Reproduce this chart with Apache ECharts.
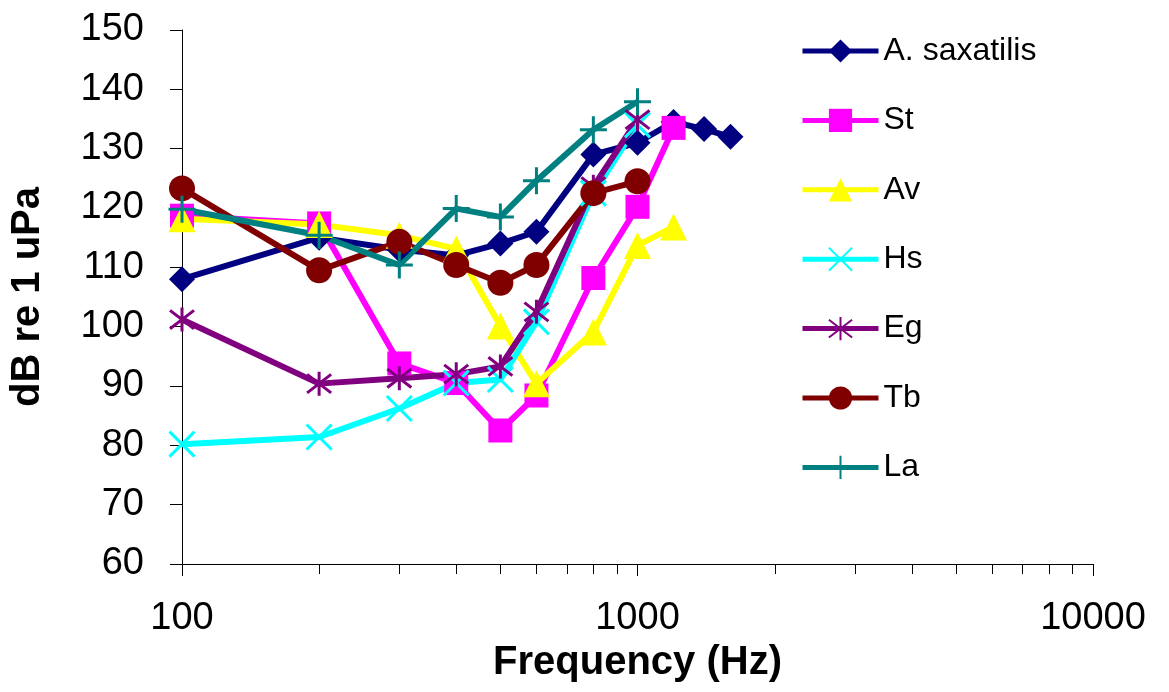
<!DOCTYPE html>
<html>
<head>
<meta charset="utf-8">
<script src="https://cdn.jsdelivr.net/npm/echarts@6/dist/echarts.min.js"></script>
<style>
html,body{margin:0;padding:0;background:#ffffff;}
#c{width:1169px;height:692px;}
</style>
</head>
<body>
<div id="c"></div>
<script>
// ---- data ----
const freqSax = [100, 200, 300, 400, 500, 600, 800, 1000, 1200, 1400, 1600];
const freqLong = [100, 200, 300, 400, 500, 600, 800, 1000, 1200];
const freqShort = [100, 200, 300, 400, 500, 600, 800, 1000];

const valsSax = [108, 115, 113, 112, 114, 116, 129, 131, 134.5, 133.3, 132];
const valsSt  = [118.7, 117.4, 93.8, 90.5, 82.5, 88.4, 108.2, 120.2, 133.5];
const valsAv  = [118.2, 117.2, 115.4, 113.1, 100.1, 90.4, 99.1, 113.7, 116.8];
const valsHs  = [80.2, 81.4, 86.2, 90.5, 91.1, 100.8, 122.5, 134];
const valsEg  = [101.2, 90.4, 91.3, 92, 93.3, 102.5, 123.6, 134.9];
const valsTb  = [123.3, 109.5, 114.3, 110.4, 107.4, 110.4, 122.5, 124.5];
const valsLa  = [119.8, 115.4, 110.4, 119.9, 118.5, 124.6, 133.2, 137.9];

const seriesNames = ['A. saxatilis', 'St', 'Av', 'Hs', 'Eg', 'Tb', 'La'];
const minorTickFreqs = [200, 300, 400, 500, 600, 700, 800, 900, 2000, 3000, 4000, 5000, 6000, 7000, 8000, 9000];
const xTitle = 'Frequency (Hz)';
const yTitle = 'dB re 1 uPa';

// ---- chart ----
const FONT = "'Liberation Sans', Arial, sans-serif";
const pair = (xs, ys) => xs.map((x, i) => [x, ys[i]]);

const styles = [
  { color: '#000080', symbol: 'diamond', size: 26, bw: 0 },
  { color: '#FF00FF', symbol: 'rect', size: 24, bw: 0 },
  { color: '#FFFF00', symbol: 'triangle', size: 27, bw: 0 },
  { color: '#00FFFF', symbol: 'path://M0,0L10,10M10,0L0,10', size: 25, bw: 3 },
  { color: '#800080', symbol: 'path://M0,0L10,10M10,0L0,10M5,-1.5L5,11.5', size: 24, bw: 3 },
  { color: '#800000', symbol: 'circle', size: 26, bw: 0 },
  { color: '#008080', symbol: 'path://M5,0L5,10M0,5L10,5', size: 27, bw: 3 }
];
const dataSets = [
  pair(freqSax, valsSax),
  pair(freqLong, valsSt),
  pair(freqLong, valsAv),
  pair(freqShort, valsHs),
  pair(freqShort, valsEg),
  pair(freqShort, valsTb),
  pair(freqShort, valsLa)
];

const series = seriesNames.map((name, i) => ({
  name: name,
  type: 'line',
  data: dataSets[i],
  symbol: styles[i].symbol,
  symbolSize: styles[i].size,
  showAllSymbol: true,
  animation: false,
  color: styles[i].color,
  lineStyle: { color: styles[i].color, width: 6 },
  itemStyle: {
    color: styles[i].color,
    borderColor: styles[i].color,
    borderWidth: styles[i].bw
  },
  emphasis: { disabled: true }
}));

const chart = echarts.init(document.getElementById('c'), null, { renderer: 'canvas' });
chart.setOption({
  backgroundColor: '#ffffff',
  animation: false,
  textStyle: { fontFamily: FONT },
  grid: { left: 177, right: 76, top: 30, bottom: 128, containLabel: false },
  legend: {
    orient: 'vertical',
    left: 795,
    top: 30,
    padding: 5,
    itemWidth: 76,
    itemHeight: 29,
    itemGap: 37.4,
    selectedMode: false,
    lineStyle: { width: 5 },
    textStyle: { fontFamily: FONT, fontSize: 32, color: '#000', lineHeight: 32 },
    data: seriesNames
  },
  xAxis: {
    type: 'log',
    logBase: 10,
    min: 100,
    max: 10000,
    name: xTitle,
    nameLocation: 'middle',
    nameGap: 71,
    nameTextStyle: { fontFamily: FONT, fontSize: 40, fontWeight: 'bold', color: '#000' },
    axisLine: { lineStyle: { color: '#000', width: 1 } },
    axisTick: { show: true, inside: false, length: 12, lineStyle: { color: '#000', width: 1 } },
    splitLine: { show: false },
    minorTick: { show: false },
    axisLabel: {
      fontFamily: FONT, fontSize: 38, color: '#000', margin: 36,
      formatter: v => String(Math.round(v))
    }
  },
  yAxis: {
    type: 'value',
    min: 60,
    max: 150,
    interval: 10,
    name: yTitle,
    nameLocation: 'middle',
    nameRotate: 90,
    nameGap: 134,
    nameTextStyle: { fontFamily: FONT, fontSize: 40, fontWeight: 'bold', color: '#000' },
    axisLine: { show: true, lineStyle: { color: '#000', width: 1 } },
    axisTick: { show: true, inside: false, length: 12, lineStyle: { color: '#000', width: 1 } },
    splitLine: { show: false },
    axisLabel: { fontFamily: FONT, fontSize: 38, color: '#000', margin: 38 }
  },
  series: series
});

// minor ticks on the log axis placed through the axis scale
const yBase = chart.convertToPixel({ yAxisIndex: 0 }, 60);
const minorEls = minorTickFreqs.map(f => {
  const x = Math.round(chart.convertToPixel({ xAxisIndex: 0 }, f)) + 0.5;
  return {
    type: 'line',
    silent: true,
    shape: { x1: x, y1: yBase, x2: x, y2: yBase + 10 },
    style: { stroke: '#000', lineWidth: 1 }
  };
});
chart.setOption({ graphic: minorEls });
</script>
</body>
</html>
